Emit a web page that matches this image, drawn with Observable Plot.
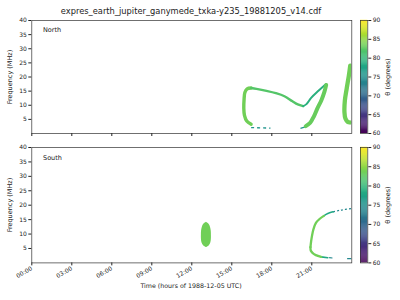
<!DOCTYPE html>
<html><head><meta charset="utf-8">
<script src="https://cdn.jsdelivr.net/npm/d3@7"></script>
<script src="https://cdn.jsdelivr.net/npm/@observablehq/plot@0.6"></script>
<style>
body{margin:0;background:#fff;}
#c{position:relative;width:400px;height:300px;font-family:"DejaVu Sans",sans-serif;color:#222;overflow:hidden;}
.t{position:absolute;white-space:nowrap;line-height:1;}
</style></head><body><div id="c"></div>
<script>
// ---- tick labels ----
const hourTicks = [0, 3, 6, 9, 12, 15, 18, 21];
const hourLabels = ["00:00", "03:00", "06:00", "09:00", "12:00", "15:00", "18:00", "21:00"];
const freqTicks = [5, 10, 15, 20, 25, 30, 35, 40];
const thetaTicks = [60, 65, 70, 75, 80, 85, 90];

// ---- North emission arcs: [time (h), frequency (MHz)], theta in degrees ----
const northLeft = [[16.45,3.3],[16.12,4.4],[15.95,6.4],[15.9,9.0],[15.92,12.0],[15.98,14.5],[16.15,15.8],[16.45,16.1]];
const northLeftTheta = 83.5;
const northTop = [[16.45,16.1],[16.85,15.8],[17.6,15.1],[18.3,14.3],[18.95,13.2],[19.55,11.4],[19.95,10.3],[20.35,9.7]];
const northTopTheta = 82;
const northRise = [[20.35,9.7],[20.6,10.4],[20.95,12.6],[21.5,15.1],[21.9,16.8],[22.08,17.5]];
const northRiseTheta = 79;
const northFall = [[22.08,17.2],[21.95,14.8],[21.72,11.8],[21.42,8.9],[21.15,6.0],[20.88,3.8],[20.55,2.6]];
const northFallTheta = 83;
const northCrescent = [[23.88,24.0],[23.78,20.5],[23.62,16.0],[23.48,11.7],[23.45,7.5],[23.52,5.3],[23.7,4.1],[23.85,3.9]];
const northCrescentTheta = 83.5;
const northTail1 = [[16.45,2.1],[17.9,1.9]];
const northTail2 = [[20.15,1.85],[20.55,2.4]];
const northTailTheta = 75.5;

// ---- South emission ----
const southBlobF  = [5.35, 5.9, 7.0, 8.5, 9.7, 11.0, 12.4, 13.4, 14.05];
const southBlobT0 = [13.1, 12.9, 12.76, 12.72, 12.72, 12.73, 12.79, 12.9, 13.1];
const southBlobT1 = [13.1, 13.3, 13.43, 13.47, 13.47, 13.46, 13.4, 13.29, 13.1];
const southBlobTheta = 83.5;
const southUpper = [[20.9,5.5],[20.95,7.5],[21.02,9.5],[21.12,11.6],[21.3,13.8],[21.6,15.3],[21.9,16.3]];
const southUpperTeal = [[21.9,16.3],[22.2,17.1],[22.6,17.7]];
const southUpperDash = [[22.6,17.7],[23.18,18.3],[23.95,18.8]];
const southLower = [[20.9,5.5],[20.92,4.3],[21.05,3.5],[21.3,2.7],[21.7,2.1]];
const southLowerTeal = [[21.7,2.1],[22.2,1.8]];
const southLowerDash1 = [[22.3,1.8],[22.55,1.7]];
const southLowerDash2 = [[23.65,1.45],[24.0,1.45]];
const southGreenTheta = 83.5, southTealTheta = 78, southDashTheta = 74;

const color = {type: "linear", scheme: "viridis", domain: [60, 90]};
const font = {fontFamily: "DejaVu Sans", fontSize: "6px", color: "#222", background: "transparent", overflow: "visible"};

function arc(pts, theta, w, extra = {}) {
  return Plot.line(pts, {x: d => d[0], y: d => d[1], stroke: () => theta, strokeWidth: w,
    curve: "catmull-rom", strokeLinecap: "round", strokeLinejoin: "round", clip: true, ...extra});
}

function panel(marks, height, top, bottom, showX) {
  return Plot.plot({
    width: 400, height, marginLeft: 31.3, marginRight: 48.7, marginTop: top, marginBottom: bottom,
    style: font,
    x: {domain: [0, 24], ticks: hourTicks, tickFormat: showX ? (d => hourLabels[hourTicks.indexOf(d)]) : (() => ""),
        tickRotate: showX ? -30 : 0, tickSize: 3, tickPadding: 2, label: null},
    y: {domain: [0, 40], ticks: freqTicks, tickSize: 3, tickPadding: 2, label: null},
    color,
    marks: [...marks, Plot.frame({stroke: "#333", strokeWidth: 0.7})]
  });
}

function colorbar(height, top, bottom) {
  const steps = d3.range(60, 90, 0.25);
  return Plot.plot({
    width: 40, height, marginLeft: 0, marginRight: 32.7, marginTop: top, marginBottom: bottom,
    style: font,
    x: {axis: null, domain: [0, 1]},
    y: {domain: [60, 90], ticks: thetaTicks, axis: "right", tickSize: 3, tickPadding: 2, label: null},
    color,
    marks: [
      Plot.rect(steps, {x1: () => 0, x2: () => 1, y1: d => d, y2: d => d + 0.3, fill: d => d + 0.125}),
      Plot.frame({stroke: "#333", strokeWidth: 0.7})
    ]
  });
}

const northMarks = [
  arc(northTail1, northTailTheta, 1.3, {strokeDasharray: "3,3", strokeLinecap: "butt"}),
  arc(northTail2, northTailTheta, 1.3, {strokeDasharray: "5,2", strokeLinecap: "butt"}),
  arc(northLeft, northLeftTheta, 3.4),
  arc(northTop, northTopTheta, 2.4),
  arc(northRise, northRiseTheta, 2.0),
  arc(northFall, northFallTheta, 4.0),
  arc(northCrescent, northCrescentTheta, 4.3)
];

const blob = southBlobF.map((f, i) => ({f, t0: southBlobT0[i], t1: southBlobT1[i]}));
const southMarks = [
  Plot.areaX(blob, {y: "f", x1: "t0", x2: "t1", fill: () => southBlobTheta, curve: "catmull-rom"}),
  arc(southUpperDash, southDashTheta, 1.2, {strokeDasharray: "2,2", strokeLinecap: "butt"}),
  arc(southLowerDash1, southDashTheta, 1.2, {strokeLinecap: "butt"}),
  arc(southLowerDash2, southDashTheta, 1.2, {strokeLinecap: "butt"}),
  arc(southUpperTeal, southTealTheta, 1.6),
  arc(southLowerTeal, southTealTheta, 1.6),
  arc(southUpper, southGreenTheta, 2.3),
  arc(southLower, southGreenTheta, 2.3)
];

const c = document.getElementById("c");
function place(el, left, top) { el.style.position = "absolute"; el.style.left = left + "px"; el.style.top = top + "px"; c.appendChild(el); }
function text(s, left, top, size, rotate, anchorLeft) {
  const d = document.createElement("div");
  d.className = "t"; d.textContent = s; d.style.fontSize = size + "px";
  d.style.left = left + "px"; d.style.top = top + "px";
  if (anchorLeft) d.style.transform = "none";
  else if (rotate) d.style.transform = "translate(-50%,-50%) rotate(" + rotate + "deg)";
  else d.style.transform = "translate(-50%,-50%)";
  c.appendChild(d);
}

place(panel(northMarks, 140, 20, 7, false), 0, 0);
place(panel(southMarks, 160, 7, 37.6, true), 0, 140);
place(colorbar(140, 20, 7), 360, 0);
place(colorbar(160, 7, 37.6), 360, 140);

text("expres_earth_jupiter_ganymede_txka-y235_19881205_v14.cdf", 191, 11, 8.3);
text("North", 43, 27, 6.5, 0, true);
text("South", 43, 155, 6.5, 0, true);
text("Frequency (MHz)", 10, 76.5, 6.5, -90);
text("Frequency (MHz)", 10, 204.5, 6.5, -90);
text("θ (degrees)", 388, 76.5, 6.5, -90);
text("θ (degrees)", 388, 204.5, 6.5, -90);
text("Time (hours of 1988-12-05 UTC)", 191, 286, 6.3);
</script></body></html>
